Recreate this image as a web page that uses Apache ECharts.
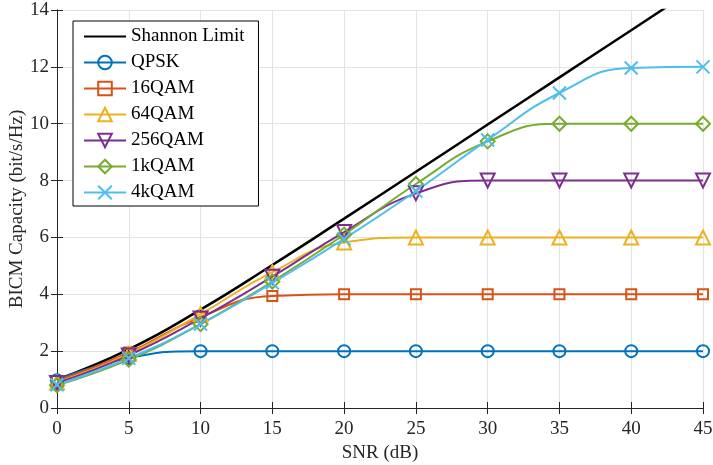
<!DOCTYPE html>
<html lang="en">
<head>
    <meta charset="UTF-8">
    <title>BICM Capacity</title>
    <script src="https://cdn.jsdelivr.net/npm/echarts@6/dist/echarts.min.js"></script>
    <style>
        html, body { margin: 0; padding: 0; background: #fff; }
        #chart { width: 713px; height: 465px; }
    </style>
</head>
<body>
    <div id="chart"></div>
    <script>
        // SNR grid (dB) and capacity values
        const snr = [0, 5, 10, 15, 20, 25, 30, 35, 40, 45];
        const shannon = [1.0, 2.06, 3.46, 5.03, 6.66, 8.31, 9.97, 11.63, 13.29, 14.95];
        const qpsk = [0.98, 1.76, 2.0, 2.0, 2.0, 2.0, 2.0, 2.0, 2.0, 2.0];
        const qam16 = [0.95, 1.95, 3.2, 3.94, 4.0, 4.0, 4.0, 4.0, 4.0, 4.0];
        const qam64 = [0.9, 1.9, 3.3, 4.78, 5.82, 6.0, 6.0, 6.0, 6.0, 6.0];
        const qam256 = [0.88, 1.85, 3.15, 4.62, 6.19, 7.55, 8.0, 8.0, 8.0, 8.0];
        const qam1k = [0.8, 1.7, 2.95, 4.45, 6.1, 7.88, 9.38, 10.0, 10.0, 10.0];
        const qam4k = [0.82, 1.75, 2.95, 4.4, 5.95, 7.63, 9.43, 11.08, 11.96, 12.0];

        const font = '"Liberation Serif", "Times New Roman", serif';
        const axisColor = '#262626';

        const chart = echarts.init(document.getElementById('chart'));

        function pairs(vals) {
            return snr.map((x, i) => [x, vals[i]]);
        }

        function curve(name, vals, color, symbol, size, width) {
            return {
                name: name,
                type: 'line',
                data: pairs(vals),
                smooth: 0.5,
                symbol: symbol,
                symbolSize: size,
                showSymbol: size > 0,
                lineStyle: { color: color, width: width },
                itemStyle: { color: 'rgba(255,255,255,0)', borderColor: color, borderWidth: size > 0 ? 2 : 0 },
                emphasis: { disabled: true }
            };
        }

        const downTri = 'path://M0,0L10,0L5,8.66Z';
        const cross = 'path://M0,0L10,10M10,0L0,10';
        const blank = 'path://M0,0L10,10';

        chart.setOption({
            animation: false,
            grid: { left: 57, right: 10, top: 10, bottom: 57, outerBoundsMode: 'none' },
            legend: {
                left: 73,
                top: 21,
                orient: 'vertical',
                padding: [6, 14, 4, 10],
                itemWidth: 42,
                itemHeight: 17,
                itemGap: 7,
                backgroundColor: '#fff',
                borderColor: '#000',
                borderWidth: 1,
                borderRadius: 0,
                textStyle: { fontFamily: font, fontSize: 19, color: '#000' },
                data: [
                    { name: 'Shannon Limit', itemStyle: { color: 'rgba(0,0,0,0)', borderWidth: 0, opacity: 0 } },
                    'QPSK', '16QAM', '64QAM', '256QAM', '1kQAM', '4kQAM'
                ]
            },
            xAxis: [{
                type: 'value',
                min: 0, max: 45, interval: 5,
                name: 'SNR (dB)',
                nameLocation: 'middle',
                nameGap: 35,
                nameTextStyle: { fontFamily: font, fontSize: 19, color: axisColor },
                axisLine: { lineStyle: { color: axisColor, width: 1 } },
                axisTick: { inside: true, length: 6, lineStyle: { color: axisColor } },
                axisLabel: { fontFamily: font, fontSize: 19, color: axisColor, margin: 12 },
                splitLine: { show: true, lineStyle: { color: '#e3e3e3', width: 1 } }
            }, {
                type: 'value', position: 'top',
                min: 0, max: 45, interval: 5,
                axisLine: { lineStyle: { color: axisColor, width: 1 } },
                axisTick: { inside: true, length: 6, lineStyle: { color: axisColor } },
                axisLabel: { show: false },
                splitLine: { show: false }
            }],
            yAxis: [{
                type: 'value',
                min: 0, max: 14, interval: 2,
                name: 'BICM Capacity (bit/s/Hz)',
                nameLocation: 'middle',
                nameGap: 30,
                nameMoveOverlap: false,
                nameTextStyle: { fontFamily: font, fontSize: 19, color: axisColor },
                axisLine: { show: true, lineStyle: { color: axisColor, width: 1 } },
                axisTick: { show: true, inside: true, length: 6, lineStyle: { color: axisColor } },
                axisLabel: { fontFamily: font, fontSize: 19, color: axisColor, margin: 8 },
                splitLine: { show: true, lineStyle: { color: '#e3e3e3', width: 1 } }
            }, {
                type: 'value', position: 'right',
                min: 0, max: 14, interval: 2,
                axisLine: { show: true, lineStyle: { color: axisColor, width: 1 } },
                axisTick: { show: true, inside: true, length: 6, lineStyle: { color: axisColor } },
                axisLabel: { show: false },
                splitLine: { show: false }
            }],
            series: [
                curve('Shannon Limit', shannon, '#000000', blank, 0, 2.5),
                curve('QPSK', qpsk, '#0072BD', 'circle', 12, 2),
                curve('16QAM', qam16, '#D95319', 'rect', 10, 2),
                curve('64QAM', qam64, '#EDB120', 'triangle', 14, 2),
                curve('256QAM', qam256, '#7E2F8E', downTri, 14, 2),
                curve('1kQAM', qam1k, '#77AC30', 'diamond', 14, 2),
                curve('4kQAM', qam4k, '#4DBEEE', cross, 13, 2)
            ]
        });
    </script>
</body>
</html>
